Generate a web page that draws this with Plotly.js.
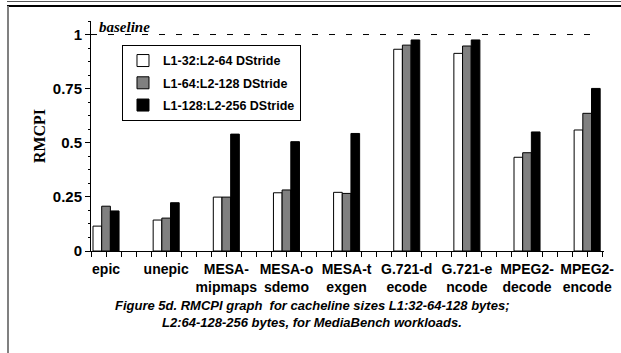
<!DOCTYPE html>
<html>
<head>
<meta charset="utf-8">
<script src="https://cdn.plot.ly/plotly-3.0.1.min.js"></script>
<style>
html,body{margin:0;padding:0;background:#fff;}
#wrap{position:relative;width:621px;height:353px;overflow:hidden;}
#chart{position:absolute;left:0;top:0;width:621px;height:353px;}
.ln{position:absolute;pointer-events:none;}
</style>
</head>
<body>
<div id="wrap">
<div id="chart"></div>
<div class="ln" style="left:7px;top:1px;width:614px;height:1px;background:#555;"></div>
<div class="ln" style="left:7px;top:5px;width:614px;height:2px;background:#000;"></div>
<div class="ln" style="left:7px;top:6px;width:2px;height:347px;background:#808080;"></div>
</div>
<script>
const categories = ["epic","unepic","MESA-<br>mipmaps","MESA-o<br>sdemo","MESA-t<br>exgen","G.721-d<br>ecode","G.721-e<br>ncode","MPEG2-<br>decode","MPEG2-<br>encode"];
const seriesNames = ["L1-32:L2-64 DStride","L1-64:L2-128 DStride","L1-128:L2-256 DStride"];
const s32  = [0.115,0.143,0.249,0.269,0.271,0.932,0.913,0.433,0.559];
const s64  = [0.207,0.152,0.249,0.282,0.266,0.951,0.947,0.454,0.636];
const s128 = [0.185,0.223,0.540,0.505,0.543,0.975,0.975,0.550,0.751];
const yTicks = [0,0.25,0.5,0.75,1];
const yTickText = ["0","0.25","0.5","0.75","1"];
const baselineValue = 1;
const captionLines = ["Figure 5d. RMCPI graph  for cacheline sizes L1:32-64-128 bytes;","L2:64-128-256 bytes, for MediaBench workloads."];

const xIdx = categories.map((c,i)=>i);
const fills = ["#ffffff","#808080","#000000"];
const series = [s32,s64,s128];
const traces = series.map((vals,k)=>({
  type:"bar", x:xIdx, y:vals, name:seriesNames[k], legendgroup:"g"+k,
  marker:{color:fills[k], line:{color:"#000", width:1}},
  hoverinfo:"y"
}));

const AR = "Liberation Sans, Arial, sans-serif";
const TM = "Liberation Serif, Times New Roman, serif";
const capY = [-0.2348,-0.3087];
const layout = {
  width:621, height:353,
  margin:{l:91, r:17, t:21, b:102, pad:0},
  paper_bgcolor:"#fff", plot_bgcolor:"#fff",
  barmode:"group", bargap:0.567, bargroupgap:0,
  showlegend:true,
  legend:{x:0.0604, y:0.896, xanchor:"left", yanchor:"top",
    bordercolor:"#000", borderwidth:1, bgcolor:"#fff",
    font:{family:AR, size:12.5, color:"#000", weight:"bold"},
    traceorder:"grouped", tracegroupgap:3},
  xaxis:{range:[-0.25,8.28], tickmode:"array", tickvals:xIdx, ticktext:categories,
    showline:true, linecolor:"#000", linewidth:1, showgrid:false, zeroline:false,
    ticks:"outside", ticklen:5, tickcolor:"#000",
    tickfont:{family:AR, size:14, color:"#000", weight:"bold"},
    minor:{tickmode:"linear", tick0:-0.25, dtick:0.25, ticks:"outside", ticklen:5, tickcolor:"#000", showgrid:false},
    fixedrange:true},
  yaxis:{range:[0,1.0625], tickmode:"array", tickvals:yTicks, ticktext:yTickText,
    showline:true, linecolor:"#000", linewidth:1, showgrid:false, zeroline:false,
    ticks:"outside", ticklen:5, tickcolor:"#000",
    tickfont:{family:AR, size:15, color:"#000", weight:"bold"},
    minor:{tickmode:"linear", tick0:0, dtick:0.0625, ticks:"outside", ticklen:2, tickcolor:"#000", showgrid:false},
    title:{text:"RMCPI", font:{family:TM, size:16, color:"#000", weight:"bold"}, standoff:3},
    fixedrange:true},
  shapes:[{type:"line", xref:"paper", yref:"y", x0:0, x1:0.982, y0:baselineValue, y1:baselineValue,
    line:{color:"#000", width:1, dash:"6px,11px"}}],
  annotations:[
    {text:"<i>baseline</i>", xref:"paper", yref:"paper", x:0.012, y:0.974, xanchor:"left", yanchor:"middle",
     showarrow:false, font:{family:TM, size:15, color:"#000", weight:"bold"}}
  ].concat(captionLines.map((t,i)=>({
     text:"<i>"+t+"</i>", xref:"paper", yref:"paper", x:0.43, y:capY[i], xanchor:"center", yanchor:"middle",
     showarrow:false, font:{family:AR, size:13, color:"#000", weight:"bold"}})))
};
Plotly.newPlot("chart", traces, layout, {displayModeBar:false, staticPlot:true});
</script>
</body>
</html>
